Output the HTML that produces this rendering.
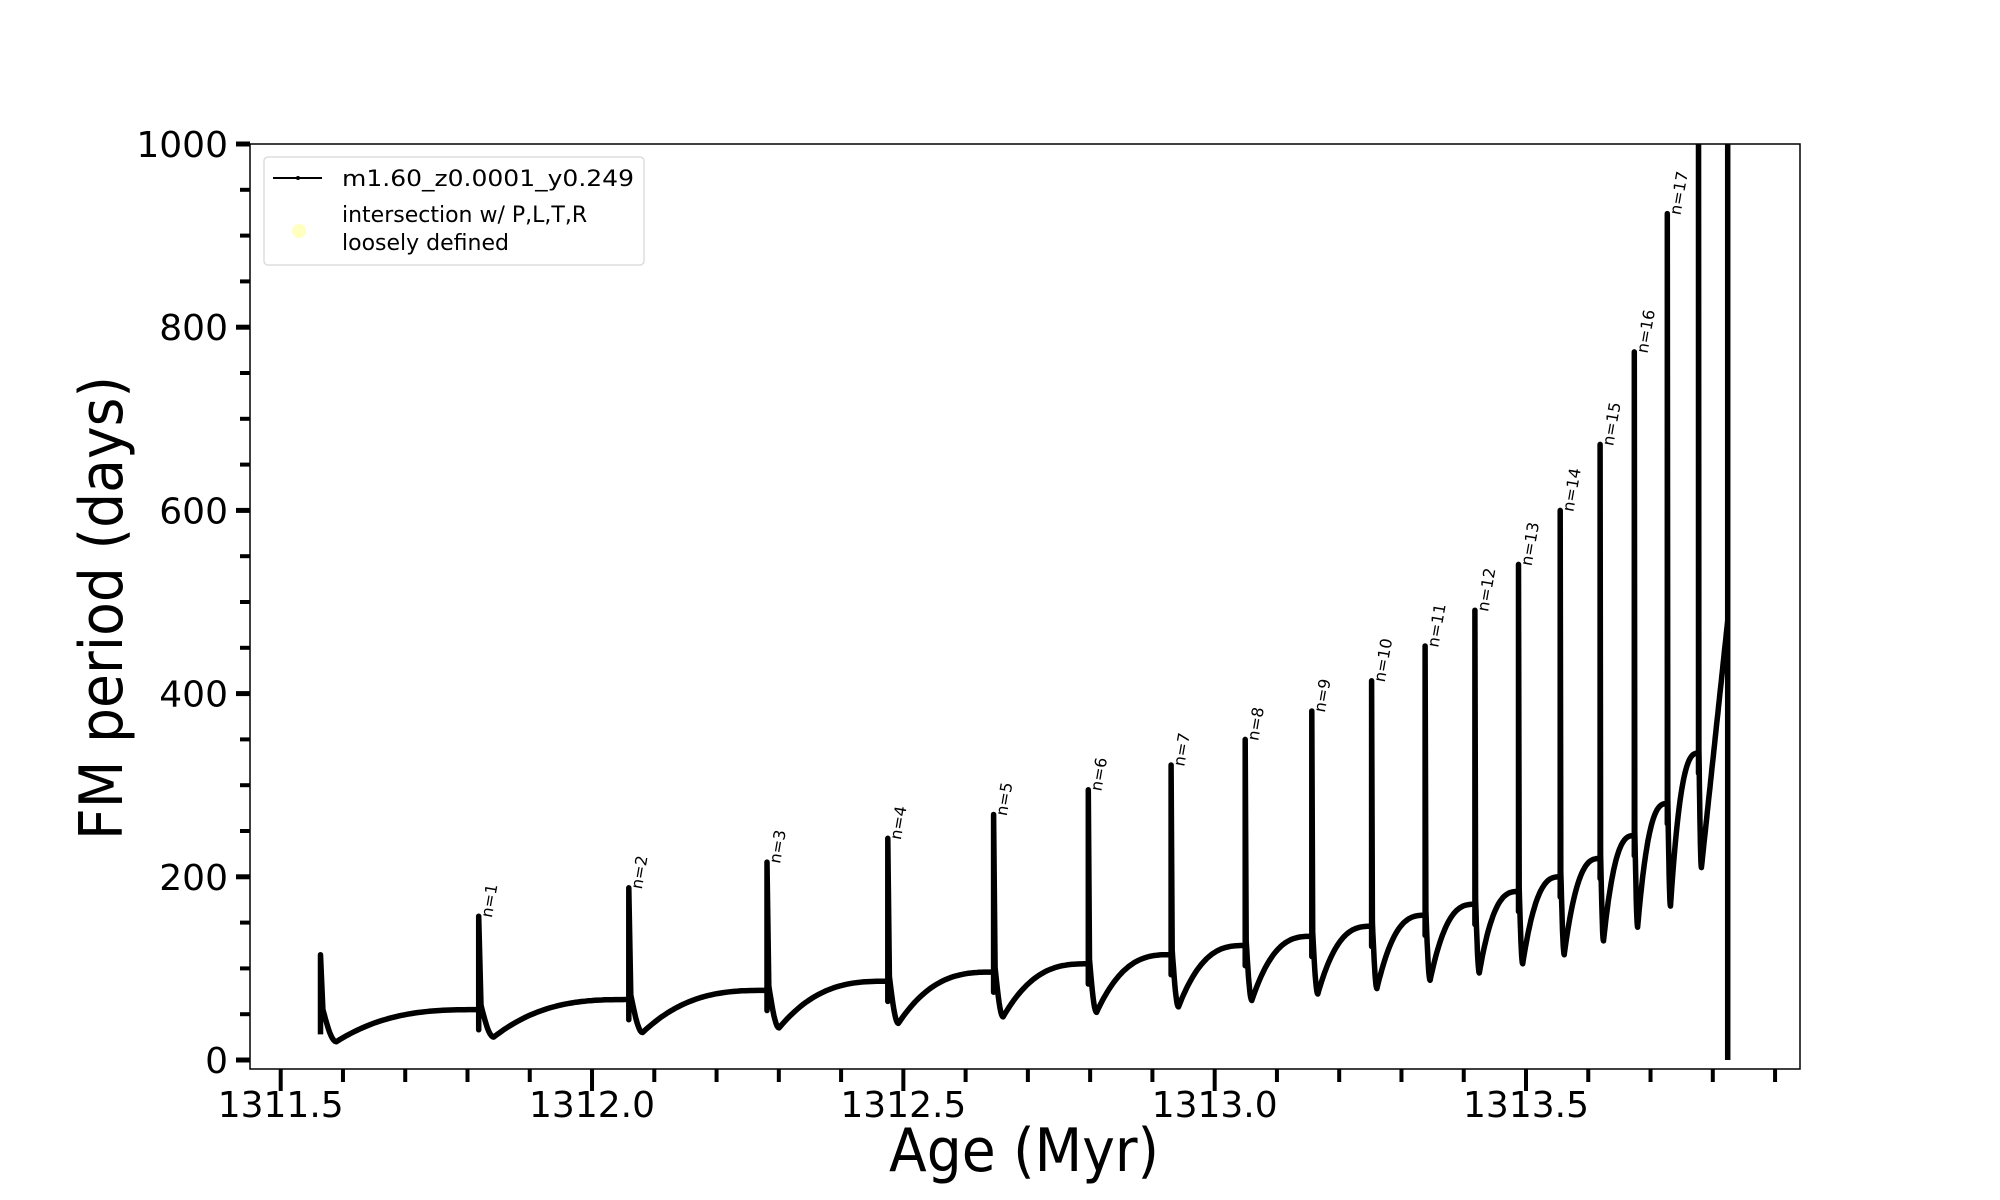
<!DOCTYPE html>
<html><head><meta charset="utf-8"><style>
html,body{margin:0;padding:0;background:#fff;}
svg{display:block;font-family:"DejaVu Sans","Liberation Sans",sans-serif;}
</style></head>
<body>
<svg id="chart" width="2000" height="1200" viewBox="0 0 2000 1200" xmlns="http://www.w3.org/2000/svg">
<rect width="2000" height="1200" fill="#fff"/>
<g id="plot"></g>
<rect x="250" y="144" width="1550" height="925" fill="none" stroke="#000" stroke-width="1.5"/>
<g id="axes"></g>
<text x="1024" y="1171" font-size="60" text-anchor="middle" textLength="270" lengthAdjust="spacingAndGlyphs">Age (Myr)</text>
<text transform="translate(122,608) rotate(-90)" font-size="60" text-anchor="middle" textLength="464" lengthAdjust="spacingAndGlyphs">FM period (days)</text>
<g>
<rect x="264" y="157" width="380" height="108" rx="4" fill="#fff" stroke="#ddd" stroke-width="1.5"/>
<line x1="273" y1="178" x2="322" y2="178" stroke="#000" stroke-width="2"/>
<circle cx="298" cy="178" r="2" fill="#000"/>
<text x="342" y="186" font-size="22" textLength="292" lengthAdjust="spacingAndGlyphs">m1.60_z0.0001_y0.249</text>
<circle cx="299" cy="231" r="7" fill="#ffffc0"/>
<text x="342" y="222" font-size="22">intersection w/ P,L,T,R</text>
<text x="342" y="250" font-size="22">loosely defined</text>
</g>
</svg>
<script>
// data
const spikeAges = [1311.564,1311.818,1312.059,1312.281,1312.475,1312.645,1312.797,1312.930,1313.049,1313.156,1313.252,1313.338,1313.418,1313.488,1313.555,1313.619,1313.674,1313.727,1313.777,1313.824];
const peakValues = [115,157,188,216,242,268,295,322,350,381,414,452,491,541,600,672,773,924,1100,1100];
const dipValues = [20,25,30,35,40,47,52,58,65,72,78,87,95,105,115,130,145,168,210];
const endValues = [55,66,76,86,96,105,115,125,135,146,158,170,184,200,220,245,280,335,480];
const xTickLabels = ["1311.5","1312.0","1312.5","1313.0","1313.5"];
const xTickValues = [1311.5,1312.0,1312.5,1313.0,1313.5];
const yTickValues = [0,200,400,600,800,1000];

const PL=250, PR=1800, PT=144, PB=1069;
const AX=1311.5, AXp=280.7, BX=1313.5, BXp=1526;
const Y0p=1060, Y1p=144;
const sx = v => AXp + (v-AX)/(BX-AX)*(BXp-AXp);
const sy = v => Y0p + v/1000*(Y1p-Y0p);
const NS="http://www.w3.org/2000/svg";
const plot=document.getElementById('plot');
const axes=document.getElementById('axes');
function mk(tag,attrs,parent){const e=document.createElementNS(NS,tag);for(const k in attrs)e.setAttribute(k,attrs[k]);parent.appendChild(e);return e;}

const defs=mk('defs',{},plot);
const cp=mk('clipPath',{id:'clip'},defs);
mk('rect',{x:PL,y:PT,width:PR-PL,height:PB-PT},cp);
const g=mk('g',{'clip-path':'url(#clip)'},plot);

let pts=[];
for(let i=0;i<dipValues.length;i++){
  const a=spikeAges[i], b=spikeAges[i+1], L=b-a;
  const prev = i>0?endValues[i-1]:50;
  pts.push([a,prev-22],[a,peakValues[i]],[a+L*0.015,prev+5]);
  const tDip=a+L*0.1;
  const N=40;
  for(let k=0;k<=10;k++){const t=k/10;pts.push([a+L*0.015+(tDip-a-L*0.015)*t, prev+5+(dipValues[i]-prev-5)*Math.sin(t*Math.PI/2)]);}
  for(let k=1;k<=N;k++){const t=k/N;const f=(i===dipValues.length-1)?t:1-Math.pow(1-t,2.8);pts.push([tDip+(b-tDip)*t, dipValues[i]+(endValues[i]-dipValues[i])*f]);}
}
const last=spikeAges[spikeAges.length-1];
pts.push([last,peakValues[peakValues.length-1]],[last,0]);
const line=mk('polyline',{points:pts.map(p=>sx(p[0]).toFixed(1)+','+sy(p[1]).toFixed(1)).join(' '),fill:'none',stroke:'#000','stroke-width':5.5,'stroke-linejoin':'round'},g);



for(let i=1;i<=17;i++){
  const x=sx(spikeAges[i])+13, y=sy(peakValues[i])+2;
  const t=mk('text',{x:0,y:0,'font-size':16,transform:`translate(${x},${y}) rotate(-80)`},plot);
  
  
  t.textContent='n='+i;
}

for(let k=0;k<=24;k++){
  const v=1311.5+k*0.1; if(sx(v)>PR)break;
  const major=(k%5===0);
  mk('line',{x1:sx(v),x2:sx(v),y1:PB,y2:PB+(major?22:13),stroke:'#000','stroke-width':4},axes);
}
xTickValues.forEach((v,i)=>{
  const t=mk('text',{x:sx(v),y:PB+48,'font-size':36,'text-anchor':'middle'},axes);
  
  
  t.textContent=xTickLabels[i];
});
for(let v=0;v<=1000;v+=50){
  const major=(v%200===0);
  mk('line',{x1:PL-(major?14:10),x2:PL,y1:sy(v),y2:sy(v),stroke:'#000','stroke-width':major?5:4},axes);
}
yTickValues.forEach(v=>{
  const s=String(v);
  const t=mk('text',{x:PL-22,y:sy(v)+13,'font-size':36,'text-anchor':'end'},axes);
  
  
  t.textContent=s;
});
</script>
</body></html>
